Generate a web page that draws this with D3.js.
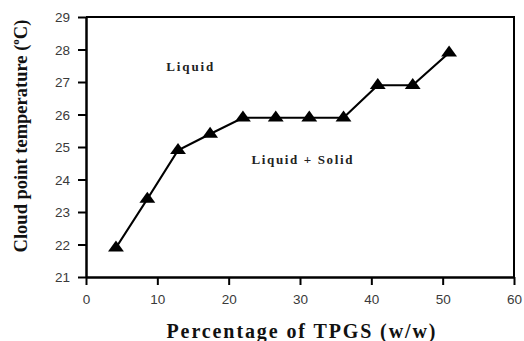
<!DOCTYPE html>
<html>
<head>
<meta charset="utf-8">
<script src="https://cdn.jsdelivr.net/npm/d3@7"></script>
<style>
  html, body { margin: 0; padding: 0; background: #fff; }
  svg { display: block; }
  .serif { font-family: "Liberation Serif", "DejaVu Serif", serif; font-weight: bold; }
  .sans { font-family: "Liberation Sans", Arial, sans-serif; }
</style>
</head>
<body>
<svg id="chart" width="524" height="341"></svg>
<script>
// TPGS content (% w/w) and measured cloud point temperature (°C)
const tpgs = [4.2, 8.6, 12.9, 17.4, 22.0, 26.6, 31.3, 36.1, 40.9, 45.8, 50.9];
const cloudPoint = [21.9, 23.4, 24.9, 25.4, 25.9, 25.9, 25.9, 25.9, 26.9, 26.9, 27.9];
const xTicks = [0, 10, 20, 30, 40, 50, 60];
const yTicks = [21, 22, 23, 24, 25, 26, 27, 28, 29];
const regionLabels = [
  { text: "Liquid", x: 11.25, y: 27.47, width: 47 },
  { text: "Liquid + Solid", x: 23.2, y: 24.63, width: 101 }
];

const svg = d3.select("#chart");
const plotLeft = 86, plotRight = 514, plotTop = 17, plotBottom = 277;

const x = d3.scaleLinear().domain([0, 60]).range([plotLeft, plotRight]);
const y = d3.scaleLinear().domain([21, 29]).range([plotBottom, plotTop]);

// frame (top and right edges)
svg.append("path")
  .attr("d", `M${plotLeft},${plotTop}H${plotRight}V${plotBottom}`)
  .attr("fill", "none").attr("stroke", "#000").attr("stroke-width", 2);

// axes
const xAxis = svg.append("g").attr("transform", `translate(0,${plotBottom})`)
  .call(d3.axisBottom(x).tickValues(xTicks).tickSize(8).tickPadding(9).tickSizeOuter(0));
const yAxis = svg.append("g").attr("transform", `translate(${plotLeft},0)`)
  .call(d3.axisLeft(y).tickValues(yTicks).tickSize(8).tickPadding(8).tickSizeOuter(0));

[xAxis, yAxis].forEach(g => {
  g.attr("font-family", null).attr("font-size", null);
  g.select(".domain").attr("stroke", "#000").attr("stroke-width", 2.5);
  g.selectAll(".tick line").attr("stroke", "#000").attr("stroke-width", 2);
  g.selectAll(".tick text")
    .attr("class", "sans")
    .attr("fill", "#3a3a3a")
    .attr("font-size", 13.5);
});
yAxis.selectAll(".tick text").attr("dy", "0.36em");

// data line
const line = d3.line().x((d, i) => x(tpgs[i])).y(d => y(d));
svg.append("path")
  .datum(cloudPoint)
  .attr("d", line)
  .attr("fill", "none").attr("stroke", "#000").attr("stroke-width", 2.2);

// triangle markers
const tri = d3.symbol().type(d3.symbolTriangle).size(70);
svg.selectAll(".pt").data(cloudPoint).enter().append("path")
  .attr("class", "pt")
  .attr("d", tri)
  .attr("transform", (d, i) => `translate(${x(tpgs[i])},${y(d)}) scale(1.25,1)`)
  .attr("fill", "#000");

// region labels
svg.selectAll(".region").data(regionLabels).enter().append("text")
  .attr("class", "region serif")
  .attr("x", d => x(d.x))
  .attr("y", d => y(d.y))
  .attr("dy", "0.35em")
  .attr("textLength", d => d.width)
  .attr("lengthAdjust", "spacing")
  .attr("font-size", 13)
  .attr("fill", "#222")
  .text(d => d.text);

// axis titles
svg.append("text")
  .attr("class", "serif")
  .attr("x", (plotLeft + plotRight) / 2 + 1)
  .attr("y", 338)
  .attr("text-anchor", "middle")
  .attr("textLength", 269)
  .attr("lengthAdjust", "spacing")
  .attr("font-size", 20)
  .attr("fill", "#111")
  .text("Percentage of TPGS (w/w)");

const yTitle = svg.append("text")
  .attr("class", "serif")
  .attr("transform", "translate(27,136) rotate(-90)")
  .attr("text-anchor", "middle")
  .attr("font-size", 18.5)
  .attr("fill", "#111");
yTitle.append("tspan").text("Cloud point temperature (");
yTitle.append("tspan").attr("font-size", 11).attr("dy", -8).text("o");
yTitle.append("tspan").attr("dy", 8).text("C)");
</script>
</body>
</html>
